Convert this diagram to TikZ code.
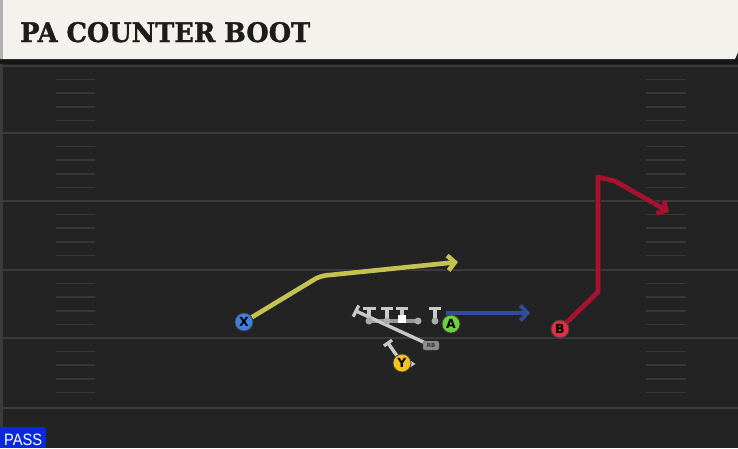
\documentclass[tikz,border=0pt]{standalone}
\usepackage{fontspec}
\usepackage{graphicx}
\usetikzlibrary{arrows.meta}
\newfontfamily\titlefont{DejaVu Serif}[FakeBold=1.2]
\newfontfamily\pfont{DejaVu Sans}
\newfontfamily\passfont{Liberation Sans}
\definecolor{fieldbg}{HTML}{232323}
\definecolor{yardc}{HTML}{3B3B3B}
\definecolor{hashc}{HTML}{373737}
\definecolor{headerbg}{HTML}{F4F2EC}
\definecolor{shadowc}{HTML}{161616}
\definecolor{stripec}{HTML}{B0B0B0}
\definecolor{titlec}{HTML}{1C1C1C}
\definecolor{yellowc}{HTML}{C4C352}
\definecolor{bluec}{HTML}{2E4D9C}
\definecolor{redc}{HTML}{A8122F}
\definecolor{xblue}{HTML}{3F7FE0}
\definecolor{agreen}{HTML}{6CD13A}
\definecolor{bred}{HTML}{E0303D}
\definecolor{yyellow}{HTML}{F2C31C}
\definecolor{lightg}{HTML}{C9C9C9}
\definecolor{rbgray}{HTML}{8C8C8C}
\definecolor{passblue}{HTML}{0A28DC}
\pgfdeclarelayer{field}
\pgfdeclarelayer{routes}
\pgfsetlayers{field,routes,main}
\tikzset{
  yardline/.style={draw=yardc, line width=2pt},
  hashmark/.style={draw=hashc, line width=1.6pt},
  route/.style={draw=#1, line width=4.6pt, line join=round,
    preaction={draw=black!85, line width=6pt},
    -{Straight Barb[length=7pt,width=15pt]}},
  player/.style={circle, minimum size=18pt, inner sep=0pt, draw=black!75,
    line width=0.8pt, text=black, font=\pfont\bfseries\fontsize{12.5}{12.5}\selectfont},
  blockline/.style={draw=lightg, line width=3.4pt},
  blockbar/.style={draw=lightg, line width=3.2pt},
  oldot/.style={circle, fill=lightg!85!black, minimum size=7pt, inner sep=0pt},
  center/.style={rectangle, fill=white, minimum size=8pt, inner sep=0pt},
  rbbox/.style={rectangle, rounded corners=2pt, fill=rbgray, draw=black!60, line width=0.4pt,
    minimum width=16pt, minimum height=9pt, inner sep=0pt, text=black!80,
    font=\pfont\bfseries\fontsize{5.5}{5.5}\selectfont}
}
\begin{document}
\begin{tikzpicture}[x=1pt,y=-1pt]
\useasboundingbox (0,0) rectangle (738,448);
\begin{pgfonlayer}{field}
  \fill[fieldbg] (0,0) rectangle (738,448);
  \fill[yardc] (0,60) rectangle (2.5,448);
  \foreach \yy in {66,133,201,270,338,408}
    \draw[yardline] (0,\yy) -- (738,\yy);
  \foreach \yy in {66,133,201,270,338}
    \foreach \k in {1,...,4} {
      \draw[hashmark] (56,{\yy+13.6*\k}) -- (95,{\yy+13.6*\k});
      \draw[hashmark] (646,{\yy+13.6*\k}) -- (686,{\yy+13.6*\k});
    }
  % header
  \fill[shadowc] (0,58) rectangle (738,64);
  \fill[headerbg] (0,0) -- (738,0) -- (738,52) -- (735,59) -- (0,59) -- cycle;
  \fill[stripec] (0,0) rectangle (3,59);
  % pass tag
  \fill[passblue] (0,427) rectangle (45.5,448);
\end{pgfonlayer}
\node[anchor=base west, inner sep=0pt, text=titlec] (title) at (20,42)
  {\resizebox{290pt}{20pt}{\titlefont\bfseries PA COUNTER BOOT}};
\node[anchor=base west, inner sep=0pt, text=white] (pass) at (4,445)
  {\resizebox{38pt}{11.5pt}{\passfont PASS}};

% players
\node[player, fill=xblue] (X) at (244,322) {X};
\node[player, fill=agreen] (A) at (451,324) {A};
\node[player, fill=bred] (B) at (560,329) {B};
\node[player, fill=yyellow] (Y) at (402,363) {Y};

% offensive line
\node[oldot] (o1) at (369,321) {};
\node[oldot] (o2) at (387,321) {};
\node[center] (c) at (402,319) {};
\node[oldot] (o4) at (418,321) {};
\node[oldot] (te) at (435,321) {};
\node[rbbox] (RB) at (431,345.5) {RB};

\coordinate (t1) at (369,308.5);
\coordinate (t2) at (387,308.5);
\coordinate (t3) at (402,308.5);
\coordinate (t4) at (435,308.5);
\coordinate (lt) at (356,311);
\coordinate (ltA) at (353.2,316.6);
\coordinate (ltB) at (358.8,305.4);
\coordinate (yb) at (388,343);
\coordinate (ybA) at (383.9,345.9);
\coordinate (ybB) at (392.1,340.1);

% route points
\coordinate (x1) at (320,276);
\coordinate (x2) at (458,262);
\coordinate (a0) at (446,313);
\coordinate (a1) at (530,313);
\coordinate (b1) at (598,292);
\coordinate (b2) at (598,177);
\coordinate (b3) at (615,181);
\coordinate (b4) at (669,212);

\begin{pgfonlayer}{routes}
  \draw[route=yellowc, rounded corners=6pt] (X.center) -- (x1) -- (x2);
  \draw[route=bluec, line width=3.8pt, preaction={draw=black!85, line width=5pt}] (a0) -- (a1);
  \draw[route=redc] (B.center) -- (b1) -- (b2) -- (b3) -- (b4);
  % blocking
  \draw[blockline, draw=lightg!70!fieldbg] (o1.center) -- (o4.center);
  \draw[blockline] (lt) -- (RB.center);
  \draw[blockbar] (ltA) -- (ltB);
  \draw[blockline] (o1.center) -- (t1);
  \draw[blockbar] ([xshift=-6.5pt]t1) -- ([xshift=6.5pt]t1);
  \draw[blockline] (o2.center) -- (t2);
  \draw[blockbar] ([xshift=-6pt]t2) -- ([xshift=6pt]t2);
  \draw[blockline] (c.center) -- (t3);
  \draw[blockbar] ([xshift=-6pt]t3) -- ([xshift=6pt]t3);
  \draw[blockline] (te.center) -- (t4);
  \draw[blockbar] ([xshift=-6pt]t4) -- ([xshift=6pt]t4);
  \draw[blockline] (Y.center) -- (yb);
  \draw[blockbar] (ybA) -- (ybB);
  \fill[lightg] (409,359.5) -- (415.5,364) -- (409,368) -- cycle;
\end{pgfonlayer}
\end{tikzpicture}
\end{document}
